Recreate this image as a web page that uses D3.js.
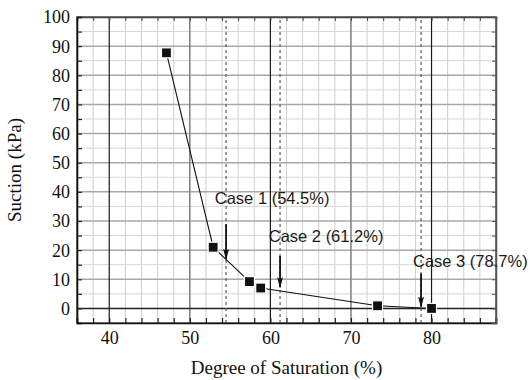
<!DOCTYPE html>
<html>
<head>
<meta charset="utf-8">
<script src="https://cdn.jsdelivr.net/npm/d3@7"></script>
<style>
  html, body { margin: 0; padding: 0; background: #fff; }
  svg { display: block; }
</style>
</head>
<body>
<svg id="chart" width="530" height="380"></svg>
<script>
// Soil-water characteristic: suction against degree of saturation
const saturation = [47.1, 52.9, 57.4, 58.8, 73.3, 80.0];
const suction    = [87.7, 21.0, 9.2, 7.0, 0.9, 0.0];

// Test cases marked on the curve
const caseNames  = ["Case 1 (54.5%)", "Case 2 (61.2%)", "Case 3 (78.7%)"];
const caseSat    = [54.5, 61.2, 78.7];
const arrowFrom  = [28.9, 18.0, 12.0];
const arrowTo    = [17.0, 7.3, 0.6];
const labelSat   = [53.1, 59.8, 77.7];
const labelSuct  = [35.8, 22.7, 14.3];

// Axis ticks
const xTickLabels = [40, 50, 60, 70, 80];
const yTickLabels = [0, 10, 20, 30, 40, 50, 60, 70, 80, 90, 100];

const W = 530, H = 380;
const m = { left: 77, right: 34, top: 17, bottom: 57 };
const svg = d3.select("#chart");

const x = d3.scaleLinear().domain([36, 88]).range([m.left, W - m.right]);
const y = d3.scaleLinear().domain([-5, 100]).range([H - m.bottom, m.top]);

const serif = "'Liberation Serif', 'Times New Roman', serif";
const sans = "'Liberation Sans', Arial, sans-serif";

const g = svg.append("g");

// Minor grid
const xMinor = d3.range(36, 89, 2).filter(v => v % 10 !== 0);
const yMinor = d3.range(5, 100, 10);
g.selectAll(".xminor").data(xMinor).join("line")
  .attr("x1", d => x(d)).attr("x2", d => x(d))
  .attr("y1", y(-5)).attr("y2", y(100))
  .attr("stroke", "#cfcfcf").attr("stroke-width", 1);
g.selectAll(".yminor").data(yMinor).join("line")
  .attr("x1", x(36)).attr("x2", x(88))
  .attr("y1", d => y(d)).attr("y2", d => y(d))
  .attr("stroke", "#d6d6d6").attr("stroke-width", 1);

// Major grid
g.selectAll(".ymajor").data(yTickLabels.filter(v => v > 0 && v < 100)).join("line")
  .attr("x1", x(36)).attr("x2", x(88))
  .attr("y1", d => y(d)).attr("y2", d => y(d))
  .attr("stroke", "#a8a8a8").attr("stroke-width", 1.5);
g.selectAll(".xmajor").data(xTickLabels).join("line")
  .attr("x1", d => x(d)).attr("x2", d => x(d))
  .attr("y1", y(-5)).attr("y2", y(100))
  .attr("stroke", d => (d % 20 === 0 ? "#1a1a1a" : "#858585"))
  .attr("stroke-width", d => (d % 20 === 0 ? 1.2 : 1.6));

// Zero-suction line
g.append("line")
  .attr("x1", x(36)).attr("x2", x(88))
  .attr("y1", y(0)).attr("y2", y(0))
  .attr("stroke", "#222").attr("stroke-width", 1.4);

// Dashed case markers
g.selectAll(".caseline").data(caseSat).join("line")
  .attr("x1", d => x(d)).attr("x2", d => x(d))
  .attr("y1", y(-5)).attr("y2", y(100))
  .attr("stroke", "#5a5a5a").attr("stroke-width", 1.2)
  .attr("stroke-dasharray", "3,3");

// Frame
g.append("rect")
  .attr("x", x(36)).attr("y", y(100))
  .attr("width", x(88) - x(36)).attr("height", y(-5) - y(100))
  .attr("fill", "none").attr("stroke", "#555").attr("stroke-width", 1.5);

// Axes with inward ticks
const xAxis = d3.axisBottom(x)
  .tickValues(d3.range(36, 89, 2))
  .tickSize(-5).tickPadding(8)
  .tickFormat(d => (xTickLabels.includes(d) ? d : ""));
const gx = svg.append("g").attr("transform", `translate(0,${y(-5)})`).call(xAxis);
gx.select(".domain").attr("stroke", "#111").attr("stroke-width", 1.6);
gx.selectAll(".tick line").attr("stroke", "#222").attr("stroke-width", 1.2);
gx.selectAll("text").attr("font-family", serif).attr("font-size", 18).attr("fill", "#111");

const xTop = d3.axisTop(x).tickValues(d3.range(36, 89, 2)).tickSize(-4).tickFormat("");
const gxt = svg.append("g").attr("transform", `translate(0,${y(100)})`).call(xTop);
gxt.select(".domain").attr("stroke", "#444").attr("stroke-width", 1.5);
gxt.selectAll(".tick line").attr("stroke", "#444");

const yAxis = d3.axisLeft(y)
  .tickValues(d3.range(0, 101, 5))
  .tickSize(-5).tickPadding(7)
  .tickFormat(d => (yTickLabels.includes(d) ? d : ""));
const gy = svg.append("g").attr("transform", `translate(${x(36)},0)`).call(yAxis);
gy.select(".domain").attr("stroke", "#111").attr("stroke-width", 1.6);
gy.selectAll(".tick line").attr("stroke", "#222").attr("stroke-width", 1.2);
gy.selectAll("text").attr("font-family", serif).attr("font-size", 18).attr("fill", "#111")
  .attr("dy", "0.33em");

const yRight = d3.axisRight(y).tickValues(d3.range(0, 101, 5)).tickSize(-4).tickFormat("");
const gyr = svg.append("g").attr("transform", `translate(${x(88)},0)`).call(yRight);
gyr.select(".domain").attr("stroke", "#555").attr("stroke-width", 1.5);
gyr.selectAll(".tick line").attr("stroke", "#555");

// Axis titles
svg.append("text")
  .attr("x", (x(36) + x(88)) / 2).attr("y", 374)
  .attr("text-anchor", "middle")
  .attr("font-family", serif).attr("font-size", 19).attr("fill", "#111")
  .text("Degree of Saturation (%)");
svg.append("text")
  .attr("transform", `translate(21,${(y(-5) + y(100)) / 2}) rotate(-90)`)
  .attr("text-anchor", "middle")
  .attr("font-family", serif).attr("font-size", 19).attr("fill", "#111")
  .text("Suction (kPa)");

// Curve
const pts = saturation.map((s, i) => [s, suction[i]]);
svg.append("path")
  .attr("d", d3.line().x(d => x(d[0])).y(d => y(d[1]))(pts))
  .attr("fill", "none").attr("stroke", "#111").attr("stroke-width", 1.1);

const ms = 10;
svg.selectAll(".pt").data(pts).join("rect")
  .attr("x", d => x(d[0]) - ms / 2).attr("y", d => y(d[1]) - ms / 2)
  .attr("width", ms).attr("height", ms)
  .attr("fill", "#111").attr("stroke", "#fff").attr("stroke-width", 1.2);

// Arrows and case labels
const defs = svg.append("defs");
defs.append("marker")
  .attr("id", "head").attr("markerUnits", "userSpaceOnUse")
  .attr("viewBox", "0 -3 11 6").attr("refX", 10).attr("refY", 0)
  .attr("markerWidth", 11).attr("markerHeight", 6).attr("orient", "auto")
  .append("path").attr("d", "M0,-3L11,0L0,3L2,0Z").attr("fill", "#111");

svg.selectAll(".arrow").data(caseSat).join("line")
  .attr("x1", d => x(d)).attr("x2", d => x(d))
  .attr("y1", (d, i) => y(arrowFrom[i])).attr("y2", (d, i) => y(arrowTo[i]))
  .attr("stroke", "#111").attr("stroke-width", 1.8)
  .attr("marker-end", "url(#head)");

svg.selectAll(".caselabel").data(caseNames).join("text")
  .attr("x", (d, i) => x(labelSat[i])).attr("y", (d, i) => y(labelSuct[i]))
  .attr("font-family", sans).attr("font-size", 16.5).attr("fill", "#1a1a1a")
  .text(d => d);
</script>
</body>
</html>
